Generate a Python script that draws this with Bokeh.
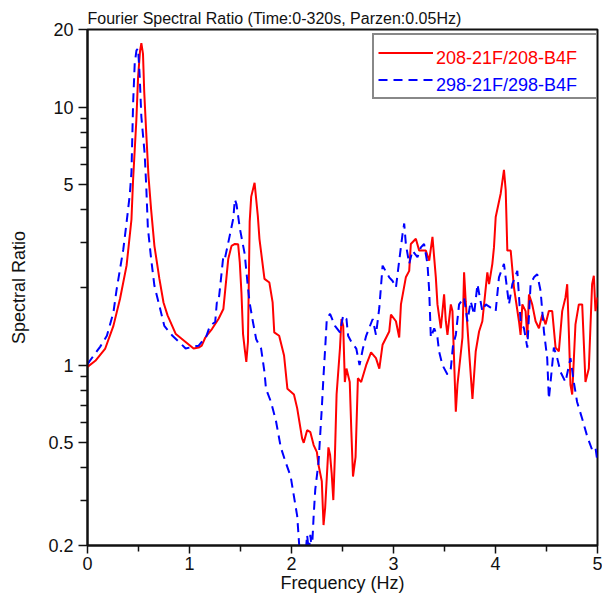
from bokeh.plotting import figure
from bokeh.models import FixedTicker, CustomJSTickFormatter, Legend, LegendItem, Range1d
from bokeh.embed import file_html
from bokeh.resources import INLINE

# ---- data ----
red_freq = [0.0, 0.077, 0.174, 0.254, 0.319, 0.383, 0.431, 0.447, 0.479, 0.496, 0.515, 0.528, 0.544, 0.556,
            0.576, 0.598, 0.624, 0.656, 0.705, 0.745, 0.785, 0.866, 0.962, 1.04, 1.09, 1.12, 1.155, 1.22,
            1.284, 1.332, 1.38, 1.412, 1.445, 1.477, 1.493, 1.509, 1.525, 1.541, 1.557, 1.573, 1.59, 1.605,
            1.638, 1.67, 1.686, 1.735, 1.783, 1.815, 1.831, 1.879, 1.927, 1.96, 2.024, 2.056, 2.104, 2.12,
            2.153, 2.185, 2.217, 2.249, 2.265, 2.297, 2.314, 2.33, 2.362, 2.378, 2.394, 2.41, 2.426, 2.442,
            2.475, 2.49, 2.507, 2.523, 2.539, 2.571, 2.587, 2.603, 2.628, 2.651, 2.683, 2.732, 2.78, 2.828,
            2.861, 2.893, 2.958, 2.975, 3.024, 3.056, 3.073, 3.121, 3.154, 3.17, 3.219, 3.252, 3.317, 3.35,
            3.382, 3.415, 3.431, 3.464, 3.496, 3.513, 3.529, 3.562, 3.578, 3.611, 3.627, 3.676, 3.692, 3.708,
            3.741, 3.774, 3.806, 3.839, 3.871, 3.92, 3.937, 3.969, 3.985, 4.002, 4.051, 4.083, 4.1, 4.116,
            4.149, 4.181, 4.23, 4.246, 4.263, 4.295, 4.312, 4.328, 4.36, 4.393, 4.426, 4.458, 4.491, 4.523,
            4.556, 4.589, 4.621, 4.654, 4.686, 4.703, 4.719, 4.735, 4.752, 4.784, 4.817, 4.85, 4.882, 4.915,
            4.947, 4.964, 4.98, 5.0]
red_ratio = [0.985, 1.04, 1.16, 1.42, 1.81, 2.43, 3.67, 5.24, 8.92, 13.1, 16.5, 17.7, 16.1, 11.5,
             7.93, 5.4, 4.0, 2.9, 2.16, 1.75, 1.56, 1.32, 1.23, 1.16, 1.17, 1.19, 1.28, 1.38,
             1.51, 1.65, 2.58, 2.9, 2.95, 2.94, 2.5, 1.92, 1.32, 1.16, 1.03, 1.23, 3.6, 4.5,
             5.09, 3.78, 3.08, 2.16, 2.09, 1.75, 1.34, 1.30, 1.09, 0.81, 0.77, 0.68, 0.52, 0.50,
             0.56, 0.55, 0.49, 0.46, 0.41, 0.355, 0.24, 0.28, 0.48, 0.45, 0.38, 0.30, 0.45, 0.77,
             1.16, 1.51, 1.42, 0.86, 0.97, 0.86, 0.55, 0.37, 0.44, 0.89, 0.86, 1.0, 1.12, 1.065,
             0.97, 1.20, 1.35, 1.57, 1.48, 1.28, 1.72, 2.19, 2.32, 2.95, 3.09, 2.78, 2.78, 2.54,
             3.14, 2.19, 1.72, 1.39, 1.88, 1.48, 1.31, 1.72, 1.62, 0.66, 0.84, 1.28, 2.29, 1.77,
             1.13, 0.74, 1.13, 1.35, 1.48, 2.29, 2.06, 2.47, 2.86, 3.75, 4.63, 5.71, 4.77, 2.78,
             2.78, 2.0, 1.48, 1.31, 1.72, 1.62, 1.28, 1.88, 1.72, 1.48, 1.39, 1.57, 1.44, 1.62,
             1.62, 1.17, 1.13, 1.62, 1.83, 2.06, 1.35, 0.84, 0.77, 1.44, 1.72, 1.72, 0.86, 0.97,
             2.06, 2.22, 1.62, 1.83]

blue_freq = [0.0, 0.061, 0.125, 0.19, 0.254, 0.286, 0.351, 0.383, 0.415, 0.431, 0.447, 0.463, 0.48, 0.496,
             0.512, 0.528, 0.56, 0.576, 0.592, 0.624, 0.656, 0.705, 0.753, 0.833, 0.898, 0.962, 1.04, 1.09,
             1.12, 1.155, 1.2, 1.252, 1.268, 1.284, 1.332, 1.348, 1.396, 1.429, 1.445, 1.461, 1.477, 1.493,
             1.541, 1.573, 1.589, 1.622, 1.654, 1.702, 1.735, 1.75, 1.799, 1.847, 1.895, 1.943, 1.992, 2.024,
             2.056, 2.088, 2.13, 2.153, 2.17, 2.185, 2.2, 2.217, 2.233, 2.265, 2.297, 2.314, 2.33, 2.346,
             2.378, 2.426, 2.475, 2.507, 2.539, 2.555, 2.587, 2.635, 2.667, 2.7, 2.732, 2.796, 2.828, 2.861,
             2.893, 2.958, 2.991, 3.024, 3.056, 3.089, 3.105, 3.121, 3.154, 3.186, 3.235, 3.268, 3.3, 3.333,
             3.35, 3.366, 3.399, 3.431, 3.447, 3.48, 3.529, 3.562, 3.584, 3.611, 3.643, 3.692, 3.725, 3.757,
             3.79, 3.823, 3.871, 3.904, 3.953, 4.002, 4.034, 4.083, 4.116, 4.132, 4.165, 4.214, 4.246, 4.279,
             4.312, 4.344, 4.377, 4.409, 4.442, 4.475, 4.507, 4.523, 4.54, 4.572, 4.605, 4.638, 4.686, 4.735,
             4.768, 4.8, 4.85, 4.899, 4.947, 4.98, 5.0]
blue_ratio = [1.01, 1.09, 1.18, 1.30, 1.60, 1.97, 2.81, 3.57, 4.6, 5.6, 10.3, 14.8, 16.6, 16.9,
              13.1, 9.18, 6.64, 4.93, 3.4, 2.58, 2.03, 1.70, 1.42, 1.30, 1.23, 1.16, 1.18, 1.19,
              1.23, 1.26, 1.42, 1.47, 1.75, 1.75, 2.65, 2.6, 3.2, 3.7, 4.39, 4.2, 3.78, 3.4,
              2.7, 2.0, 1.75, 1.47, 1.26, 1.16, 0.94, 0.81, 0.72, 0.61, 0.48, 0.42, 0.37, 0.31,
              0.26, 0.17, 0.17, 0.22, 0.19, 0.22, 0.19, 0.26, 0.33, 0.42, 0.68, 0.91, 1.16, 1.51,
              1.58, 1.42, 1.34, 1.56, 1.51, 1.30, 1.23, 1.16, 1.0, 1.16, 1.30, 1.51, 1.31, 1.67,
              2.43, 2.19, 2.12, 2.0, 2.54, 3.23, 3.54, 2.95, 2.47, 2.78, 2.62, 2.86, 2.95, 2.47,
              1.94, 1.28, 1.39, 1.28, 1.13, 1.0, 0.92, 0.97, 1.20, 1.31, 1.72, 1.83, 1.48, 1.77,
              1.57, 2.06, 1.62, 1.72, 1.67, 1.62, 2.19, 2.47, 1.94, 1.72, 2.06, 2.32, 1.48, 1.39,
              1.17, 2.06, 2.19, 2.25, 1.94, 1.35, 1.065, 0.74, 0.86, 1.17, 1.065, 0.94, 0.86, 1.065,
              0.86, 0.72, 0.62, 0.53, 0.47, 0.48, 0.42]

series_labels = ["208-21F/208-B4F", "298-21F/298-B4F"]
x_ticks = [0, 1, 2, 3, 4, 5]
x_minor_ticks = [0.5, 1.5, 2.5, 3.5, 4.5]
y_ticks = [0.2, 0.5, 1, 5, 10, 20]
y_minor_ticks = [0.3, 0.4, 0.6, 0.7, 0.8, 0.9, 2, 3, 4, 6, 7, 8, 9]
title_text = "Fourier Spectral Ratio (Time:0-320s, Parzen:0.05Hz)"

FONT = "Liberation Sans"
FS = "18px"
INK = "#111111"

p = figure(width=602, height=596, x_range=Range1d(0, 5), y_range=Range1d(0.2, 20),
           y_axis_type="log", output_backend="svg", toolbar_location=None,
           min_border_left=87, min_border_right=5, min_border_top=29, min_border_bottom=51,
           title=title_text)

p.title.text_font = FONT
p.title.text_font_size = "16px"
p.title.text_font_style = "normal"
p.title.text_color = INK
p.title.align = "left"
p.title.offset = 0
p.title.standoff = 6

p.xgrid.visible = False
p.ygrid.visible = False
p.outline_line_color = INK
p.outline_line_width = 2
p.background_fill_color = "white"
p.border_fill_color = "white"

for ax in (p.xaxis[0], p.yaxis[0]):
    ax.axis_line_color = INK
    ax.axis_line_width = 2
    ax.major_tick_line_color = INK
    ax.minor_tick_line_color = INK
    ax.major_tick_line_width = 1.5
    ax.minor_tick_line_width = 1.5
    ax.major_tick_in = 0
    ax.minor_tick_in = 0
    ax.major_label_text_font = FONT
    ax.major_label_text_font_size = FS
    ax.major_label_text_color = INK
    ax.axis_label_text_font = FONT
    ax.axis_label_text_font_size = FS
    ax.axis_label_text_font_style = "normal"
    ax.axis_label_text_color = INK

p.xaxis.major_tick_out = 8
p.xaxis.minor_tick_out = 6
p.yaxis.major_tick_out = 9
p.yaxis.minor_tick_out = 7

p.xaxis.ticker = FixedTicker(ticks=x_ticks, minor_ticks=x_minor_ticks)
p.yaxis.ticker = FixedTicker(ticks=y_ticks, minor_ticks=y_minor_ticks)
p.xaxis.formatter = CustomJSTickFormatter(code="return String(Number(tick.toPrecision(6)));")
p.yaxis.formatter = CustomJSTickFormatter(code="return String(Number(tick.toPrecision(6)));")
p.xaxis.axis_label = "Frequency (Hz)"
p.yaxis.axis_label = "Spectral Ratio"
p.xaxis.major_label_standoff = 3
p.xaxis.axis_label_standoff = 0
p.yaxis.major_label_standoff = 5
p.yaxis.axis_label_standoff = 16

r_red = p.line(red_freq, red_ratio, line_color="#FF0000", line_width=2)
r_blue = p.line(blue_freq, blue_ratio, line_color="#0000FF", line_width=2, line_dash="9 6")

PAD, ROW, GW, LS, LW = 4, 27, 55, 9, 150
LX, LY = 285, 446


def make_legend(items, loc, color, box):
    return Legend(items=items, location=loc, orientation="vertical", padding=PAD, spacing=0,
                  glyph_height=ROW, glyph_width=GW if box else 0,
                  label_height=ROW, label_standoff=LS if box else GW + LS,
                  label_width=LW if box else 20, margin=0,
                  label_text_font=FONT, label_text_font_size=FS, label_text_color=color,
                  border_line_color=INK if box else None, border_line_width=2,
                  background_fill_color="white", background_fill_alpha=1 if box else 0)


# framed box with the two line samples
leg_box = make_legend([LegendItem(label=" ", renderers=[r_red]),
                       LegendItem(label=" ", renderers=[r_blue])],
                      (LX, LY), "white", True)
# coloured labels, one per row
leg_red = make_legend([LegendItem(label=series_labels[0], renderers=[r_red])],
                      (LX, LY + ROW), "#FF0000", False)
leg_blue = make_legend([LegendItem(label=series_labels[1], renderers=[r_blue])],
                       (LX, LY), "#0000FF", False)
p.add_layout(leg_box)
p.add_layout(leg_red)
p.add_layout(leg_blue)

open("out.html", "w").write(file_html(p, INLINE))
